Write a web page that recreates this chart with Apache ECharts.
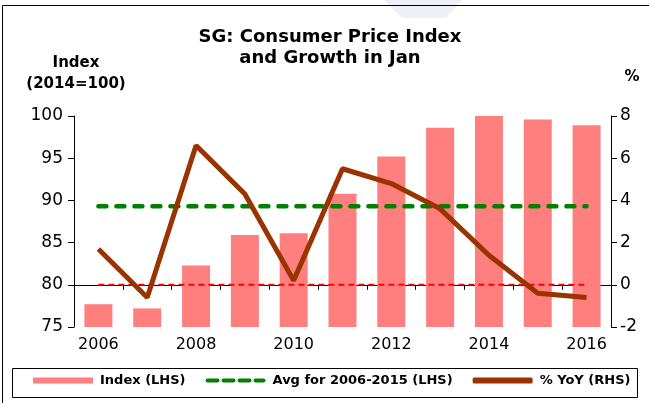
<!DOCTYPE html>
<html>
<head>
<meta charset="utf-8">
<script src="https://cdn.jsdelivr.net/npm/echarts@6/dist/echarts.min.js"></script>
<style>
html,body{margin:0;padding:0;background:#fff;}
#chart{width:649px;height:403px;}
</style>
</head>
<body>
<div id="chart"></div>
<script>
// ---- data ----
const years = ['2006','2007','2008','2009','2010','2011','2012','2013','2014','2015','2016'];
const cpiIndex = [77.7, 77.2, 82.3, 85.9, 86.1, 90.8, 95.2, 98.6, 100.0, 99.6, 98.9];
const yoyGrowth = [1.7, -0.6, 6.6, 4.3, 0.2, 5.5, 4.8, 3.6, 1.4, -0.4, -0.6];
const avgIndex = [89.3, 89.3, 89.3, 89.3, 89.3, 89.3, 89.3, 89.3, 89.3, 89.3, 89.3];
const zeroLine = [0, 0, 0, 0, 0, 0, 0, 0, 0, 0, 0];
const leftTicks = {min: 75, max: 100, interval: 5};
const rightTicks = {min: -2, max: 8, interval: 2};

const FONT = 'DejaVu Sans';
const dashIcon = 'path://M2,0h10a2,2 0 0 1 0,4h-10a2,2 0 0 1 0,-4z M18,0h10a2,2 0 0 1 0,4h-10a2,2 0 0 1 0,-4z M34,0h10a2,2 0 0 1 0,4h-10a2,2 0 0 1 0,-4z M50,0h8a2,2 0 0 1 0,4h-8a2,2 0 0 1 0,-4z';
const chart = echarts.init(document.getElementById('chart'), null, {renderer: 'canvas'});
chart.setOption({
  animation: false,
  backgroundColor: '#ffffff',
  textStyle: {fontFamily: FONT, color: '#000'},
  graphic: [
    {type: 'polygon', shape: {points: [[384, 0], [462, 0], [446, 18], [402, 18]]}, style: {fill: '#eef0f6'}, silent: true, z: -20},
    {type: 'rect', shape: {x: 2.5, y: 5.5, width: 700, height: 500}, style: {fill: 'none', stroke: '#000', lineWidth: 1}, silent: true, z: -10},
    {type: 'rect', shape: {x: 12.5, y: 368.5, width: 625, height: 29}, style: {fill: 'none', stroke: '#000', lineWidth: 1}, silent: true},
    {type: 'text', x: 330, y: 27, style: {text: 'SG: Consumer Price Index\nand Growth in Jan', fontFamily: FONT, fontSize: 18, fontWeight: 'bold', fill: '#000', textAlign: 'center', lineHeight: 21}},
    {type: 'text', x: 76, y: 53, style: {text: 'Index\n(2014=100)', fontFamily: FONT, fontSize: 15, fontWeight: 'bold', fill: '#000', textAlign: 'center', lineHeight: 21}},
    {type: 'text', x: 632, y: 70, style: {text: '%', fontFamily: FONT, fontSize: 15, fontWeight: 'bold', fill: '#000', textAlign: 'center'}}
  ],
  legend: {
    top: 374, left: 33, padding: 0,
    itemWidth: 60, itemHeight: 6, itemGap: 20,
    textStyle: {fontFamily: FONT, fontSize: 13, fontWeight: 'bold', color: '#000', padding: [0, 0, 0, 2]},
    data: [
      {name: 'Index (LHS)', icon: 'rect'},
      {name: 'Avg for 2006-2015 (LHS)', icon: dashIcon},
      {name: '% YoY (RHS)', icon: 'roundRect'}
    ]
  },
  grid: {left: 74, right: 38, top: 116, bottom: 76},
  xAxis: {
    type: 'category', data: years,
    axisLine: {lineStyle: {color: '#000', width: 1}},
    axisTick: {show: true, interval: 0, length: 5, lineStyle: {color: '#000'}},
    axisLabel: {interval: 1, color: '#000', fontSize: 16, fontFamily: FONT, margin: 10}
  },
  yAxis: [
    {type: 'value', min: leftTicks.min, max: leftTicks.max, interval: leftTicks.interval,
     splitLine: {show: false},
     axisLine: {show: true, lineStyle: {color: '#000'}},
     axisTick: {show: true, length: 6, lineStyle: {color: '#000'}},
     axisLabel: {color: '#000', fontSize: 17, fontFamily: FONT, margin: 11}},
    {type: 'value', min: rightTicks.min, max: rightTicks.max, interval: rightTicks.interval,
     position: 'right',
     splitLine: {show: false},
     axisLine: {show: true, lineStyle: {color: '#000'}},
     axisTick: {show: true, length: 6, lineStyle: {color: '#000'}},
     axisLabel: {color: '#000', fontSize: 17, fontFamily: FONT, margin: 9}}
  ],
  series: [
    {name: 'Index (LHS)', type: 'bar', data: cpiIndex, barWidth: 28,
     itemStyle: {color: '#ff7f7f'}, z: 1},
    {name: 'zero', type: 'line', yAxisIndex: 1, data: zeroLine, symbol: 'none',
     lineStyle: {color: '#ff0000', width: 2, type: [6, 4]}, z: 2, silent: true},
    {name: 'Avg for 2006-2015 (LHS)', type: 'line', data: avgIndex, symbol: 'none',
     lineStyle: {color: '#008000', width: 4.5, type: [8, 10], cap: 'round'}, itemStyle: {color: '#008000'}, z: 3},
    {name: '% YoY (RHS)', type: 'line', yAxisIndex: 1, data: yoyGrowth, symbol: 'none',
     lineStyle: {color: '#993300', width: 5}, itemStyle: {color: '#993300'}, z: 4}
  ]
});
</script>
</body>
</html>
